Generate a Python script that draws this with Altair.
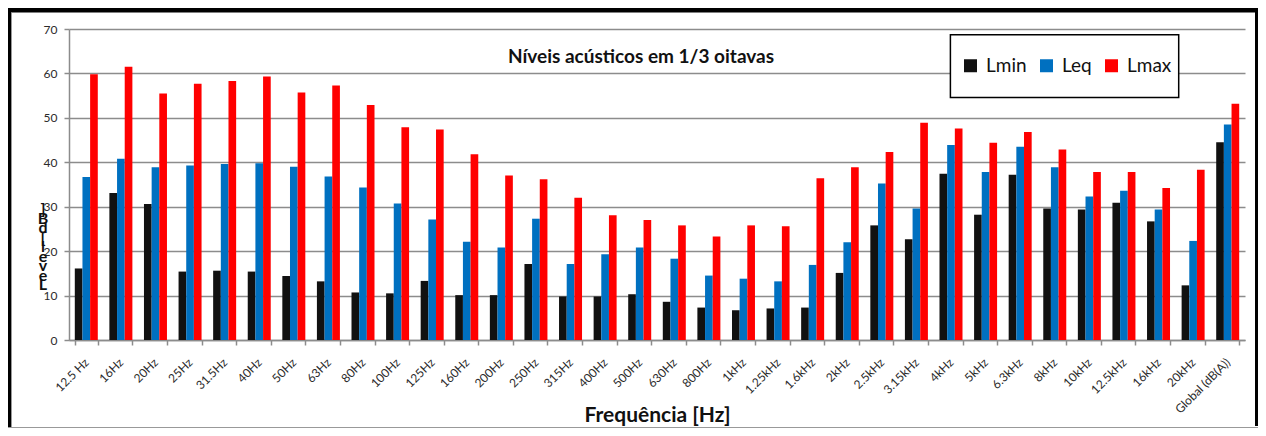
import altair as alt
import pandas as pd

freq = ["12.5 Hz", "16Hz", "20Hz", "25Hz", "31.5Hz", "40Hz", "50Hz", "63Hz", "80Hz", "100Hz",
        "125Hz", "160Hz", "200Hz", "250Hz", "315Hz", "400Hz", "500Hz", "630Hz", "800Hz", "1kHz",
        "1.25kHz", "1.6kHz", "2kHz", "2.5kHz", "3.15kHz", "4kHz", "5kHz", "6.3kHz", "8kHz", "10kHz",
        "12.5kHz", "16kHz", "20kHz", "Global (dB(A))"]

lmin = [16.1, 33.1, 30.6, 15.4, 15.6, 15.4, 14.4, 13.2, 10.7, 10.5,
        13.3, 10.1, 10.1, 17.1, 9.8, 9.8, 10.3, 8.6, 7.3, 6.7,
        7.1, 7.3, 15.1, 25.8, 22.7, 37.4, 28.2, 37.2, 29.6, 29.4,
        30.9, 26.7, 12.3, 44.5]
leq = [36.7, 40.8, 38.9, 39.3, 39.6, 39.8, 39.0, 36.8, 34.3, 30.7,
       27.1, 22.1, 20.8, 27.3, 17.1, 19.3, 20.8, 18.3, 14.5, 13.8,
       13.2, 16.9, 22.0, 35.2, 29.6, 43.9, 37.8, 43.5, 38.9, 32.3,
       33.6, 29.4, 22.3, 48.5]
lmax = [59.8, 61.5, 55.5, 57.7, 58.3, 59.3, 55.7, 57.3, 52.9, 47.9,
        47.4, 41.8, 37.0, 36.2, 32.0, 28.1, 27.0, 25.8, 23.3, 25.8,
        25.6, 36.4, 38.9, 42.3, 48.9, 47.6, 44.4, 46.8, 42.9, 37.8,
        37.8, 34.2, 38.3, 53.2]

series = ["Lmin", "Leq", "Lmax"]
colors = ["#111111", "#0070C0", "#FF0000"]
y_ticks = [0, 10, 20, 30, 40, 50, 60, 70]

title_text = "Níveis acústicos em 1/3 oitavas"
x_title = "Frequência [Hz]"
y_title_stacked = "]\nB\nd\n[\n \nl\ne\nv\ne\nL"

rows = []
for i, f in enumerate(freq):
    for s, vals in zip(series, [lmin, leq, lmax]):
        rows.append({"freq": f, "series": s, "value": vals[i]})
df = pd.DataFrame(rows)

gray = "#8c8c8c"
FONT = "Lato"

bars = alt.Chart(df).mark_bar().encode(
    x=alt.X("freq:N", sort=freq,
            scale=alt.Scale(paddingInner=0.335, paddingOuter=0.1675),
            axis=alt.Axis(title=x_title, labelAngle=-45, labelAlign="right",
                          labelBaseline="middle", labelPadding=15, tickBand="extent",
                          tickSize=5, tickColor=gray, tickWidth=1.5, domainColor=gray,
                          domainWidth=1.5, labelFont=FONT, labelFontSize=12,
                          labelColor="#2b2b2b", titleFont=FONT, titleFontSize=21,
                          titleFontWeight="bold", titleColor="#111111", titleY=81,
                          titleBaseline="alphabetic", grid=False, labelOverlap=False)),
    xOffset=alt.XOffset("series:N", sort=series,
                        scale=alt.Scale(paddingInner=0, paddingOuter=0)),
    y=alt.Y("value:Q", scale=alt.Scale(domain=[0, 70], nice=False),
            axis=alt.Axis(values=y_ticks, title=None, grid=True, gridColor=gray,
                          gridWidth=1.5, tickSize=5, tickColor=gray, tickWidth=1.5,
                          domainColor=gray, domainWidth=1.5, labelFont=FONT,
                          labelFontSize=12, labelColor="#2b2b2b", labelPadding=7)),
    color=alt.Color("series:N", sort=series,
                    scale=alt.Scale(domain=series, range=colors),
                    legend=alt.Legend(orient="none", legendX=892, legendY=27,
                                      direction="horizontal", title=None,
                                      symbolType="square", symbolSize=169,
                                      symbolStrokeWidth=0, labelFont=FONT,
                                      labelFontSize=19, labelColor="#111111",
                                      labelOffset=6, columnPadding=10, padding=0)),
)

one = pd.DataFrame({"d": [0]})
base = alt.Chart(one)

legend_box = base.mark_rect(fill="white", stroke="black", strokeWidth=1.5).encode(
    x=alt.value(881.4), x2=alt.value(1109.7), y=alt.value(5.7), y2=alt.value(68.4))

title = base.mark_text(font=FONT, fontSize=19, fontWeight="bold", color="#111111",
                       align="center", baseline="middle").encode(
    x=alt.value(572), y=alt.value(28), text=alt.value(title_text))

ytitle = base.mark_text(font=FONT, fontSize=16, fontWeight="bold", color="#111111",
                        align="center", baseline="top", lineBreak="\n",
                        lineHeight=9.5).encode(
    x=alt.value(-26), y=alt.value(172), text=alt.value(y_title_stacked))

frame_top = base.mark_rule(color="black", strokeWidth=4.5).encode(
    x=alt.value(-61), x2=alt.value(1189), y=alt.value(-18.7))
frame_left = base.mark_rule(color="black", strokeWidth=3).encode(
    x=alt.value(-59.5), y=alt.value(-21), y2=alt.value(399))
frame_left_gray = base.mark_rule(color="#999999", strokeWidth=1).encode(
    x=alt.value(-57.5), y=alt.value(-16), y2=alt.value(399))
frame_right = base.mark_rule(color="black", strokeWidth=3).encode(
    x=alt.value(1187.5), y=alt.value(-21), y2=alt.value(397))
frame_bottom = base.mark_rule(color="#999999", strokeWidth=1).encode(
    x=alt.value(-61), x2=alt.value(1189), y=alt.value(398.5))

chart = alt.layer(
    bars, legend_box, title, ytitle,
    frame_top, frame_left, frame_left_gray, frame_right, frame_bottom
).properties(
    width=1176, height=311,
    padding={"left": 61, "top": 21, "right": 13, "bottom": 88},
    autosize=alt.AutoSizeParams(type="none"),
    background="white",
).configure_view(strokeWidth=0)

chart.save("out.html", embed_options={"renderer": "svg", "actions": False})
